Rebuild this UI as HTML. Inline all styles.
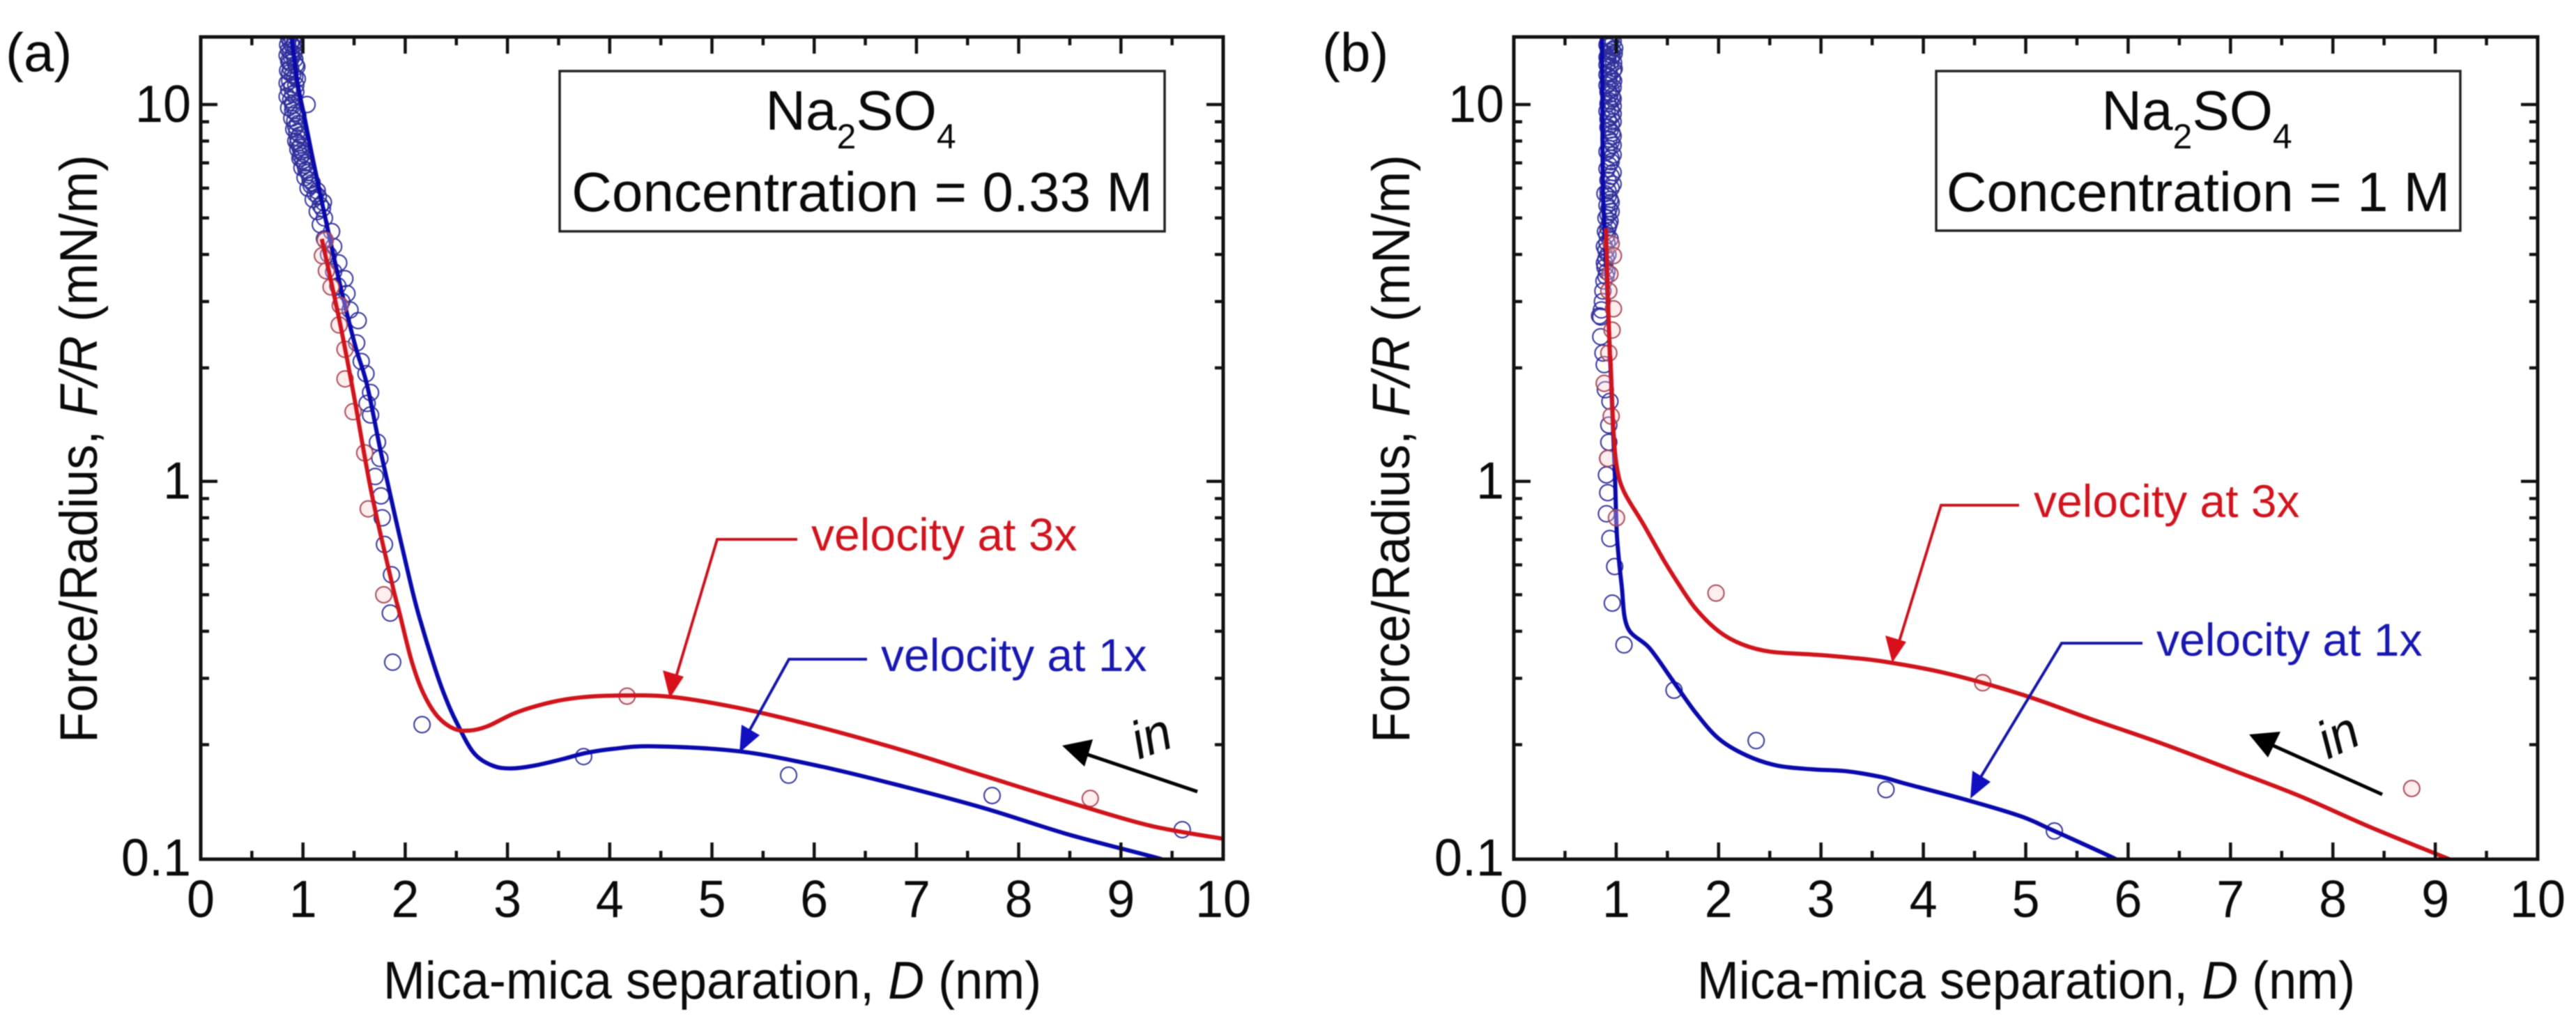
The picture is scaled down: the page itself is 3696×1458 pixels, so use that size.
<!DOCTYPE html>
<html lang="en">
<head>
<meta charset="utf-8">
<title>Force versus separation for Na2SO4</title>
<style>
html,body{margin:0;padding:0;background:#fff;}
svg{display:block;filter:blur(0.9px);}
text{font-family:"Liberation Sans",sans-serif;fill:#0a0a0a;}
.tick{font-size:72px;}
.title{font-size:72px;}
.box{font-size:80px;text-anchor:middle;}
.note{font-size:66px;}
</style>
</head>
<body>
<svg id="chart" xmlns="http://www.w3.org/2000/svg" width="3696" height="1458" viewBox="0 0 3696 1458">
<rect width="3696" height="1458" fill="#fff"/>
<defs>
<clipPath id="clip-a"><rect x="288" y="53" width="1467" height="1180"/></clipPath>
<clipPath id="clip-b"><rect x="2172" y="53" width="1469" height="1180"/></clipPath>
</defs>
<g id="panel-a"></g>
<g id="panel-b"></g>

<text x="8" y="102" font-size="78">(a)</text>
<text x="1897" y="102" font-size="78">(b)</text>

<text class="title" transform="translate(1022 1433) scale(1 1.06)" text-anchor="middle">Mica-mica separation, <tspan font-style="italic">D</tspan> (nm)</text>
<text class="title" transform="translate(2907 1433) scale(1 1.06)" text-anchor="middle">Mica-mica separation, <tspan font-style="italic">D</tspan> (nm)</text>
<text class="title" transform="translate(139 644) rotate(-90) scale(1 1.06)" text-anchor="middle">Force/Radius, <tspan font-style="italic">F/R</tspan> (mN/m)</text>
<text class="title" transform="translate(2022 644) rotate(-90) scale(1 1.06)" text-anchor="middle">Force/Radius, <tspan font-style="italic">F/R</tspan> (mN/m)</text>

<g>
<rect x="803" y="102" width="868" height="230" fill="#fff" stroke="#222" stroke-width="3.5"/>
<text class="box" x="1235" y="186">Na<tspan font-size="50" dy="27">2</tspan><tspan dy="-27">SO</tspan><tspan font-size="50" dy="27">4</tspan></text>
<text class="box" x="1237" y="303">Concentration = 0.33 M</text>
</g>
<g>
<rect x="2778" y="102" width="752" height="229" fill="#fff" stroke="#222" stroke-width="3.5"/>
<text class="box" x="3152" y="186">Na<tspan font-size="50" dy="27">2</tspan><tspan dy="-27">SO</tspan><tspan font-size="50" dy="27">4</tspan></text>
<text class="box" x="3154" y="303">Concentration = 1 M</text>
</g>

<g>
<path d="M1144 774H1029L968 978" fill="none" stroke="#c8141e" stroke-width="4"/>
<path d="M961 1002L951 962L981 971Z" fill="#d8101c"/>
<text class="note" x="1164" y="790" style="fill:#d0141e">velocity at 3x</text>
</g>
<g>
<path d="M1244 946H1132L1070 1058" fill="none" stroke="#1515a8" stroke-width="4"/>
<path d="M1061 1080L1064 1040L1090 1055Z" fill="#1010c0"/>
<text class="note" x="1264" y="963" style="fill:#1818b0">velocity at 1x</text>
</g>
<g>
<path d="M2897 725H2785L2722 930" fill="none" stroke="#c8141e" stroke-width="4"/>
<path d="M2715 951L2705 912L2735 921Z" fill="#d8101c"/>
<text class="note" x="2918" y="742" style="fill:#d0141e">velocity at 3x</text>
</g>
<g>
<path d="M3074 923H2958L2836 1125" fill="none" stroke="#1515a8" stroke-width="4"/>
<path d="M2827 1146L2830 1106L2856 1122Z" fill="#1010c0"/>
<text class="note" x="3094" y="941" style="fill:#1818b0">velocity at 1x</text>
</g>

<g>
<path d="M1718 1136L1555 1081" stroke="#000" stroke-width="5" fill="none"/>
<path d="M1524 1070L1568 1061L1556 1100Z" fill="#000"/>
<text transform="translate(1634 1090) rotate(-20) scale(1 1.05)" font-size="72" font-style="italic">in</text>
</g>
<g>
<path d="M3418 1140L3255 1067" stroke="#000" stroke-width="5" fill="none"/>
<path d="M3227 1054L3272 1050L3254 1087Z" fill="#000"/>
<text transform="translate(3340 1090) rotate(-25) scale(1 1.05)" font-size="72" font-style="italic">in</text>
</g>
</svg>
<script>
// Tick values
const xTickValues = [0,1,2,3,4,5,6,7,8,9,10];
const xMinorValues = [0.5,1.5,2.5,3.5,4.5,5.5,6.5,7.5,8.5,9.5];
const yTickValues = [0.1,1,10];
const yTickLabels = ['0.1','1','10'];
const yMinorValues = [0.2,0.3,0.4,0.5,0.6,0.7,0.8,0.9,2,3,4,5,6,7,8,9];

// Panel (a) fitted curves
const aRedFitD = [1.184,1.357,1.493,1.67,1.875,1.945,2.059,2.172,2.309,2.468,2.627,2.808,3.08,3.42,3.715,4.035,4.59,5.27,6.07,6.87,7.67,8.48,9.28,10];
const aRedFitF = [4.4,2.67,1.72,0.933,0.53,0.447,0.336,0.276,0.239,0.221,0.218,0.224,0.243,0.259,0.267,0.27,0.268,0.25,0.222,0.193,0.165,0.141,0.122,0.1125];
const aBlueFitD = [0.89,0.945,1.013,1.104,1.24,1.377,1.513,1.627,1.763,1.9,2.036,2.127,2.286,2.4,2.513,2.672,2.854,3.035,3.262,3.535,3.763,4.035,4.43,5.27,6.07,6.87,7.67,8.48,9.36,9.6];
const aBlueFitF = [15,11.5,9.3,7,4.7,3.2,2.28,1.8,1.19,0.81,0.56,0.447,0.322,0.264,0.226,0.19,0.176,0.173,0.176,0.183,0.19,0.195,0.198,0.192,0.175,0.155,0.1355,0.1157,0.1,0.095];

// Panel (a) measured points
const aBluePointsD = [0.86,0.92,0.85,0.93,0.88,0.845,0.92,0.87,0.94,0.85,0.9,0.945,0.845,0.89,0.93,0.845,0.88,0.9,1.04,0.86,0.93,0.89,0.95,0.91,0.97,0.93,0.98,0.95,1.0,0.97,1.02,0.99,1.05,1.02,1.09,1.05,1.12,1.1,1.17,1.14,1.21,1.17,1.28,1.21,1.3,1.25,1.35,1.3,1.41,1.34,1.43,1.38,1.46,1.54,1.525,1.57,1.616,1.661,1.627,1.661,1.729,1.752,1.706,1.763,1.775,1.797,1.866,1.854,1.877,2.165,3.745,5.75,7.74,9.6,0.9,0.88,0.9,0.86,0.91,0.89,0.86,0.93,0.88,0.87,0.92,0.87,0.93,0.86,0.9,0.9,0.9,0.95,0.92,0.93,0.94,0.95,0.95,0.97,0.98,0.98,1.0,1.02,1.03,1.06,1.07,1.08,1.14,1.15,1.2,1.19];
const aBluePointsF = [15,14.7,14.4,14.1,13.8,13.5,13.2,12.9,12.6,12.3,12,11.7,11.4,11.1,10.8,10.5,10.3,10.1,10,9.8,9.5,9.2,8.9,8.6,8.3,8,7.8,7.6,7.4,7.2,7,6.8,6.6,6.4,6.2,6,5.8,5.6,5.4,5.2,5,4.8,4.6,4.4,4.2,4,3.8,3.6,3.45,3.3,3.15,3,2.85,2.67,2.33,2.08,1.93,1.72,1.61,1.5,1.27,1.15,1.03,0.915,0.8,0.68,0.565,0.447,0.331,0.226,0.186,0.166,0.1466,0.119,14.85,14.55,14.25,13.95,13.65,13.35,13.05,12.75,12.45,12.15,11.85,11.55,11.25,10.95,10.65,9.95,9.65,9.35,9.05,8.75,8.45,8.15,7.9,7.7,7.5,7.3,7.1,6.9,6.7,6.5,6.3,6.1,5.9,5.7,5.5,5.3];
const aRedPointsD = [1.218,1.19,1.229,1.275,1.365,1.354,1.411,1.411,1.49,1.604,1.638,1.79,4.17,8.7];
const aRedPointsF = [4.36,3.97,3.62,3.28,2.93,2.6,2.24,1.87,1.53,1.19,0.845,0.5,0.269,0.144];

// Panel (b) fitted curves
const bRedFitD = [0.899,0.935,0.945,0.973,1.007,1.075,1.257,1.461,1.598,1.777,2.006,2.233,2.505,2.914,3.254,3.594,4.21,4.956,5.636,6.317,6.998,7.679,8.36,9.11,9.3];
const bRedFitF = [4.7,2.25,2.09,1.37,1.09,0.94,0.776,0.62,0.54,0.459,0.399,0.369,0.353,0.347,0.341,0.333,0.31,0.272,0.234,0.202,0.172,0.146,0.121,0.1,0.095];
const bBlueFitD = [0.86,0.865,0.87,0.89,0.93,0.985,1.007,1.053,1.11,1.325,1.552,1.777,2.006,2.278,2.573,2.914,3.254,3.594,3.81,4.45,4.956,5.28,5.86,6];
const bBlueFitF = [15,10,6,4.4,2.5,1.08,0.72,0.53,0.41,0.361,0.296,0.243,0.207,0.187,0.176,0.172,0.17,0.164,0.158,0.142,0.129,0.118,0.1,0.095];

// Panel (b) measured points
const bBluePointsD = [0.93,0.97,0.91,0.985,0.94,0.96,0.92,0.975,0.94,0.97,0.91,0.96,0.93,0.97,0.92,0.96,0.94,0.97,0.91,0.95,0.97,0.92,0.96,0.93,0.97,0.91,0.95,0.93,0.97,0.92,0.95,0.89,0.94,0.91,0.95,0.9,0.93,0.895,0.94,0.885,0.92,0.885,0.91,0.88,0.87,0.865,0.855,0.837,0.849,0.849,0.871,0.883,0.894,0.939,0.928,0.928,0.917,0.905,0.917,0.905,0.939,0.985,0.962,1.076,1.565,2.367,3.635,5.28,0.95,0.94,0.93,0.96,0.98,0.91,0.95,0.91,0.98,0.93,0.93,0.975,0.91,0.95,0.94,0.97,0.92,0.945,0.97,0.92,0.95,0.94,0.97,0.95,0.93,0.97,0.95,0.91,0.95,0.97,0.92,0.92,0.95,0.93,0.92,0.94,0.92,0.91,0.91,0.9,0.9,0.89,0.9];
const bBluePointsF = [15,14.7,14.4,14.1,13.8,13.5,13.2,12.9,12.6,12.3,12,11.7,11.4,11.1,10.8,10.5,10.2,9.9,9.6,9.3,9,8.7,8.4,8.1,7.8,7.5,7.2,6.9,6.6,6.3,6,5.8,5.6,5.4,5.2,5,4.8,4.6,4.4,4.2,4,3.8,3.6,3.4,3.2,3,2.85,2.75,2.73,2.42,2.19,2.04,1.75,1.63,1.41,1.27,1.15,1.04,0.933,0.82,0.705,0.594,0.475,0.368,0.279,0.205,0.152,0.118,14.85,14.55,14.25,13.95,13.65,13.35,13.05,12.75,12.45,12.15,11.85,11.55,11.25,10.95,10.65,10.35,10.05,9.75,9.45,9.15,8.85,8.55,8.25,7.95,7.65,7.35,7.05,6.75,6.45,6.15,5.9,5.7,5.5,5.3,5.1,4.9,4.7,4.5,4.3,4.1,3.9,3.7,3.5];
const bRedPointsD = [0.951,0.973,0.939,0.928,0.973,0.96,0.928,0.883,0.951,0.917,1.003,1.975,4.58,8.77];
const bRedPointsF = [4.27,3.97,3.55,3.2,2.87,2.52,2.19,1.82,1.49,1.15,0.8,0.505,0.292,0.153];

const NS = 'http://www.w3.org/2000/svg';
const topY = 53, bottomY = 1233;

function yScale(f){ return 690.7 - 540.7 * Math.log10(f); }
function xScale(left, right, d){ return left + (right - left) * d / 10; }

function smoothPath(xs, ys){
  let d = 'M' + xs[0].toFixed(1) + ' ' + ys[0].toFixed(1);
  for (let i = 0; i < xs.length - 1; i++) {
    const i0 = Math.max(0, i - 1), i3 = Math.min(xs.length - 1, i + 2);
    const c1x = xs[i] + (xs[i + 1] - xs[i0]) / 6, c1y = ys[i] + (ys[i + 1] - ys[i0]) / 6;
    const c2x = xs[i + 1] - (xs[i3] - xs[i]) / 6, c2y = ys[i + 1] - (ys[i3] - ys[i]) / 6;
    d += 'C' + c1x.toFixed(1) + ' ' + c1y.toFixed(1) + ' ' + c2x.toFixed(1) + ' ' + c2y.toFixed(1) + ' ' + xs[i + 1].toFixed(1) + ' ' + ys[i + 1].toFixed(1);
  }
  return d;
}

function addTick(g, x1, y1, x2, y2){
  const t = document.createElementNS(NS, 'line');
  
  
  t.setAttribute('x1', x1); t.setAttribute('y1', y1);
  t.setAttribute('x2', x2); t.setAttribute('y2', y2);
  t.setAttribute('stroke', '#111');
  t.setAttribute('stroke-width', '4.5');
  g.appendChild(t);
}

function addLabel(g, x, y, str, anchor){
  const t = document.createElementNS(NS, 'text');
  
  
  t.setAttribute('class', 'tick');
  t.setAttribute('transform', 'translate(' + x + ' ' + y + ') scale(1 1.04)');
  t.setAttribute('text-anchor', anchor);
  t.textContent = str;
  g.appendChild(t);
}

function addPoints(g, left, right, ds, fs, stroke, fill, name){
  for (let i = 0; i < ds.length; i++) {
    const c = document.createElementNS(NS, 'circle');
    
    
    c.setAttribute('cx', xScale(left, right, ds[i]).toFixed(1));
    c.setAttribute('cy', yScale(fs[i]).toFixed(1));
    c.setAttribute('r', '11.5');
    c.setAttribute('fill', fill);
    c.setAttribute('stroke', stroke);
    c.setAttribute('stroke-width', '2');
    g.appendChild(c);
  }
}

function addFit(g, left, right, ds, fs, color, name){
  const p = document.createElementNS(NS, 'path');
  
  
  p.setAttribute('d', smoothPath(ds.map(v => xScale(left, right, v)), fs.map(yScale)));
  p.setAttribute('fill', 'none');
  p.setAttribute('stroke', color);
  p.setAttribute('stroke-width', '6');
  p.setAttribute('stroke-linejoin', 'round');
  g.appendChild(p);
}

function drawPanel(id, left, right, blueD, blueF, redD, redF, blueFitD, blueFitF, redFitD, redFitF){
  const g = document.getElementById(id);
  const clip = document.createElementNS(NS, 'g');
  
  
  clip.setAttribute('clip-path', 'url(#clip-' + id.slice(-1) + ')');
  g.appendChild(clip);
  addPoints(clip, left, right, blueD, blueF, '#30309c', 'none', 'velocity-1x-point');
  addFit(clip, left, right, blueFitD, blueFitF, '#0a0aac', 'velocity-1x-fit');
  addPoints(clip, left, right, redD, redF, '#a84858', 'rgba(255,205,205,0.35)', 'velocity-3x-point');
  addFit(clip, left, right, redFitD, redFitF, '#d0141c', 'velocity-3x-fit');

  const frame = document.createElementNS(NS, 'rect');
  
  
  frame.setAttribute('x', left); frame.setAttribute('y', topY);
  frame.setAttribute('width', right - left); frame.setAttribute('height', bottomY - topY);
  frame.setAttribute('fill', 'none');
  frame.setAttribute('stroke', '#111');
  frame.setAttribute('stroke-width', '5');
  g.appendChild(frame);

  xTickValues.forEach((v, i) => {
    const x = xScale(left, right, v);
    if (i > 0 && i < xTickValues.length - 1) {
      addTick(g, x, bottomY, x, bottomY - 24);
      addTick(g, x, topY, x, topY + 24);
    }
    addLabel(g, x, 1316, String(v), 'middle');
  });
  xMinorValues.forEach(v => {
    const x = xScale(left, right, v);
    addTick(g, x, bottomY, x, bottomY - 12);
    addTick(g, x, topY, x, topY + 12);
  });
  yTickValues.forEach((v, i) => {
    const y = yScale(v);
    if (i > 0) {
      addTick(g, left, y, left + 24, y);
      addTick(g, right, y, right - 24, y);
    }
    addLabel(g, left - 14, y + 25, yTickLabels[i], 'end');
  });
  yMinorValues.forEach(v => {
    const y = yScale(v);
    addTick(g, left, y, left + 12, y);
    addTick(g, right, y, right - 12, y);
  });
}

drawPanel('panel-a', 288, 1755, aBluePointsD, aBluePointsF, aRedPointsD, aRedPointsF, aBlueFitD, aBlueFitF, aRedFitD, aRedFitF);
drawPanel('panel-b', 2172, 3641, bBluePointsD, bBluePointsF, bRedPointsD, bRedPointsF, bBlueFitD, bBlueFitF, bRedFitD, bRedFitF);
</script>
</body>
</html>
